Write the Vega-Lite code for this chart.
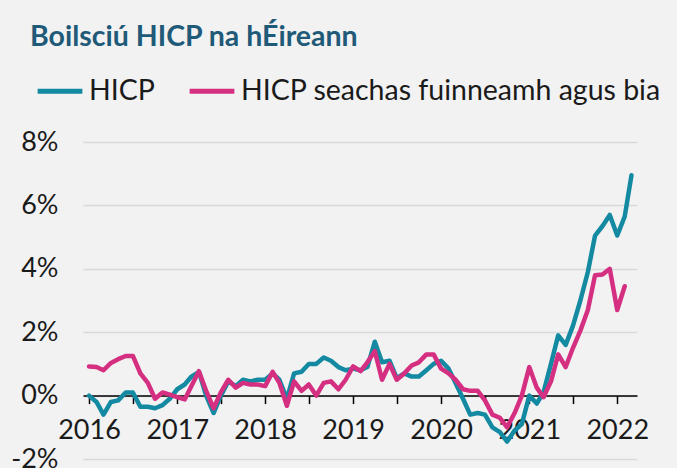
{
  "$schema": "https://vega.github.io/schema/vega-lite/v6.json",
  "width": 554,
  "height": 317,
  "autosize": {"type": "none"},
  "padding": {"left": 83, "top": 142, "right": 40, "bottom": 9},
  "background": "#f2f2f2",
  "title": {"text": "Boilsciú HICP na hÉireann", "anchor": "start", "frame": "group", "dx": -53, "offset": 15, "font": "Lato", "fontSize": 28.5, "fontWeight": "bold", "color": "#1f5a78"},
  "config": {"view": {"stroke": null}, "font": "Lato"},
  "datasets": {
    "hicp": [
      {"date": "2016-01-01", "value": 0.0}, {"date": "2016-02-01", "value": -0.2}, {"date": "2016-03-01", "value": -0.6}, {"date": "2016-04-01", "value": -0.2},
      {"date": "2016-05-01", "value": -0.15}, {"date": "2016-06-01", "value": 0.1}, {"date": "2016-07-01", "value": 0.1}, {"date": "2016-08-01", "value": -0.35},
      {"date": "2016-09-01", "value": -0.35}, {"date": "2016-10-01", "value": -0.4}, {"date": "2016-11-01", "value": -0.3}, {"date": "2016-12-01", "value": -0.1},
      {"date": "2017-01-01", "value": 0.2}, {"date": "2017-02-01", "value": 0.35}, {"date": "2017-03-01", "value": 0.6}, {"date": "2017-04-01", "value": 0.75},
      {"date": "2017-05-01", "value": 0.0}, {"date": "2017-06-01", "value": -0.55}, {"date": "2017-07-01", "value": 0.0}, {"date": "2017-08-01", "value": 0.45},
      {"date": "2017-09-01", "value": 0.3}, {"date": "2017-10-01", "value": 0.5}, {"date": "2017-11-01", "value": 0.45}, {"date": "2017-12-01", "value": 0.5},
      {"date": "2018-01-01", "value": 0.5}, {"date": "2018-02-01", "value": 0.7}, {"date": "2018-03-01", "value": 0.5}, {"date": "2018-04-01", "value": -0.1},
      {"date": "2018-05-01", "value": 0.7}, {"date": "2018-06-01", "value": 0.75}, {"date": "2018-07-01", "value": 1.0}, {"date": "2018-08-01", "value": 1.0},
      {"date": "2018-09-01", "value": 1.2}, {"date": "2018-10-01", "value": 1.1}, {"date": "2018-11-01", "value": 0.9}, {"date": "2018-12-01", "value": 0.8},
      {"date": "2019-01-01", "value": 0.85}, {"date": "2019-02-01", "value": 0.8}, {"date": "2019-03-01", "value": 0.9}, {"date": "2019-04-01", "value": 1.7},
      {"date": "2019-05-01", "value": 1.05}, {"date": "2019-06-01", "value": 1.1}, {"date": "2019-07-01", "value": 0.55}, {"date": "2019-08-01", "value": 0.7},
      {"date": "2019-09-01", "value": 0.6}, {"date": "2019-10-01", "value": 0.6}, {"date": "2019-11-01", "value": 0.8}, {"date": "2019-12-01", "value": 1.0},
      {"date": "2020-01-01", "value": 1.1}, {"date": "2020-02-01", "value": 0.85}, {"date": "2020-03-01", "value": 0.4}, {"date": "2020-04-01", "value": -0.1},
      {"date": "2020-05-01", "value": -0.6}, {"date": "2020-06-01", "value": -0.55}, {"date": "2020-07-01", "value": -0.6}, {"date": "2020-08-01", "value": -1.0},
      {"date": "2020-09-01", "value": -1.15}, {"date": "2020-10-01", "value": -1.45}, {"date": "2020-11-01", "value": -1.1}, {"date": "2020-12-01", "value": -0.9},
      {"date": "2021-01-01", "value": 0.0}, {"date": "2021-02-01", "value": -0.25}, {"date": "2021-03-01", "value": 0.1}, {"date": "2021-04-01", "value": 1.0},
      {"date": "2021-05-01", "value": 1.9}, {"date": "2021-06-01", "value": 1.6}, {"date": "2021-07-01", "value": 2.2}, {"date": "2021-08-01", "value": 3.0},
      {"date": "2021-09-01", "value": 3.9}, {"date": "2021-10-01", "value": 5.05}, {"date": "2021-11-01", "value": 5.35}, {"date": "2021-12-01", "value": 5.7},
      {"date": "2022-01-01", "value": 5.05}, {"date": "2022-02-01", "value": 5.65}, {"date": "2022-03-01", "value": 6.95}
    ],
    "core": [
      {"date": "2016-01-01", "value": 0.92}, {"date": "2016-02-01", "value": 0.9}, {"date": "2016-03-01", "value": 0.8}, {"date": "2016-04-01", "value": 1.03},
      {"date": "2016-05-01", "value": 1.15}, {"date": "2016-06-01", "value": 1.25}, {"date": "2016-07-01", "value": 1.25}, {"date": "2016-08-01", "value": 0.7},
      {"date": "2016-09-01", "value": 0.4}, {"date": "2016-10-01", "value": -0.1}, {"date": "2016-11-01", "value": 0.1}, {"date": "2016-12-01", "value": 0.03},
      {"date": "2017-01-01", "value": -0.05}, {"date": "2017-02-01", "value": -0.12}, {"date": "2017-03-01", "value": 0.3}, {"date": "2017-04-01", "value": 0.77},
      {"date": "2017-05-01", "value": 0.15}, {"date": "2017-06-01", "value": -0.4}, {"date": "2017-07-01", "value": 0.1}, {"date": "2017-08-01", "value": 0.5},
      {"date": "2017-09-01", "value": 0.25}, {"date": "2017-10-01", "value": 0.4}, {"date": "2017-11-01", "value": 0.35}, {"date": "2017-12-01", "value": 0.35},
      {"date": "2018-01-01", "value": 0.3}, {"date": "2018-02-01", "value": 0.75}, {"date": "2018-03-01", "value": 0.4}, {"date": "2018-04-01", "value": -0.32},
      {"date": "2018-05-01", "value": 0.45}, {"date": "2018-06-01", "value": 0.15}, {"date": "2018-07-01", "value": 0.35}, {"date": "2018-08-01", "value": 0.0},
      {"date": "2018-09-01", "value": 0.4}, {"date": "2018-10-01", "value": 0.45}, {"date": "2018-11-01", "value": 0.2}, {"date": "2018-12-01", "value": 0.5},
      {"date": "2019-01-01", "value": 0.92}, {"date": "2019-02-01", "value": 0.77}, {"date": "2019-03-01", "value": 1.05}, {"date": "2019-04-01", "value": 1.4},
      {"date": "2019-05-01", "value": 0.5}, {"date": "2019-06-01", "value": 1.0}, {"date": "2019-07-01", "value": 0.5}, {"date": "2019-08-01", "value": 0.7},
      {"date": "2019-09-01", "value": 0.95}, {"date": "2019-10-01", "value": 1.05}, {"date": "2019-11-01", "value": 1.3}, {"date": "2019-12-01", "value": 1.3},
      {"date": "2020-01-01", "value": 0.85}, {"date": "2020-02-01", "value": 0.7}, {"date": "2020-03-01", "value": 0.5}, {"date": "2020-04-01", "value": 0.2},
      {"date": "2020-05-01", "value": 0.15}, {"date": "2020-06-01", "value": 0.15}, {"date": "2020-07-01", "value": -0.15}, {"date": "2020-08-01", "value": -0.6},
      {"date": "2020-09-01", "value": -0.7}, {"date": "2020-10-01", "value": -1.0}, {"date": "2020-11-01", "value": -0.55}, {"date": "2020-12-01", "value": 0.0},
      {"date": "2021-01-01", "value": 0.9}, {"date": "2021-02-01", "value": 0.25}, {"date": "2021-03-01", "value": -0.05}, {"date": "2021-04-01", "value": 0.45},
      {"date": "2021-05-01", "value": 1.3}, {"date": "2021-06-01", "value": 0.9}, {"date": "2021-07-01", "value": 1.5}, {"date": "2021-08-01", "value": 2.05},
      {"date": "2021-09-01", "value": 2.7}, {"date": "2021-10-01", "value": 3.8}, {"date": "2021-11-01", "value": 3.82}, {"date": "2021-12-01", "value": 4.0},
      {"date": "2022-01-01", "value": 2.7}, {"date": "2022-02-01", "value": 3.45}
    ]
  },
  "encoding": {
    "x": {
      "field": "date", "type": "temporal",
      "scale": {"type": "utc", "domain": [{"year": 2015, "month": 12, "date": 7, "utc": true}, {"year": 2022, "month": 3, "date": 24, "utc": true}]},
      "axis": {
        "title": null, "orient": "bottom", "offset": -63.4, "grid": false,
        "values": [
          {"year": 2016, "month": 1, "date": 1, "utc": true}, {"year": 2016, "month": 7, "date": 1, "utc": true},
          {"year": 2017, "month": 1, "date": 1, "utc": true}, {"year": 2017, "month": 7, "date": 1, "utc": true},
          {"year": 2018, "month": 1, "date": 1, "utc": true}, {"year": 2018, "month": 7, "date": 1, "utc": true},
          {"year": 2019, "month": 1, "date": 1, "utc": true}, {"year": 2019, "month": 7, "date": 1, "utc": true},
          {"year": 2020, "month": 1, "date": 1, "utc": true}, {"year": 2020, "month": 7, "date": 1, "utc": true},
          {"year": 2021, "month": 1, "date": 1, "utc": true}, {"year": 2021, "month": 7, "date": 1, "utc": true},
          {"year": 2022, "month": 1, "date": 1, "utc": true}
        ],
        "labelExpr": "utcmonth(datum.value) === 0 ? utcFormat(datum.value, '%Y') : ''",
        "domainColor": "#000000", "domainWidth": 1.5, "tickColor": "#000000", "tickWidth": 1.5, "tickSize": 8,
        "labelFont": "Lato", "labelFontSize": 27, "labelColor": "#1a1a1a", "labelPadding": 14,
        "labelFlush": false, "labelOverlap": false
      }
    },
    "y": {
      "field": "value", "type": "quantitative",
      "scale": {"domain": [-2, 8], "nice": false, "zero": false},
      "axis": {
        "title": null, "values": [-2, 0, 2, 4, 6, 8], "labelExpr": "datum.value + '%'",
        "domain": false, "ticks": false, "gridColor": "#d9d9d9", "gridWidth": 1.5,
        "labelFont": "Lato", "labelFontSize": 27, "labelColor": "#1a1a1a", "labelPadding": 25
      }
    },
    "color": {
      "field": "series", "type": "nominal",
      "scale": {"domain": ["HICP", "HICP seachas fuinneamh agus bia"], "range": ["#138aa2", "#d42f80"]},
      "legend": {
        "orient": "none", "legendX": -48, "legendY": -76, "direction": "horizontal", "title": null,
        "padding": 0, "symbolType": "stroke", "symbolStrokeWidth": 5, "symbolSize": 2000,
        "labelFont": "Lato", "labelFontSize": 28.5, "labelColor": "#1a1a1a", "labelOffset": 4,
        "columnPadding": 24, "labelLimit": 600
      }
    }
  },
  "layer": [
    {
      "data": {"name": "hicp"},
      "transform": [{"calculate": "'HICP'", "as": "series"}],
      "mark": {"type": "line", "strokeWidth": 4.5, "strokeJoin": "round", "strokeCap": "round"}
    },
    {
      "data": {"name": "core"},
      "transform": [{"calculate": "'HICP seachas fuinneamh agus bia'", "as": "series"}],
      "mark": {"type": "line", "strokeWidth": 4.5, "strokeJoin": "round", "strokeCap": "round"}
    }
  ]
}
